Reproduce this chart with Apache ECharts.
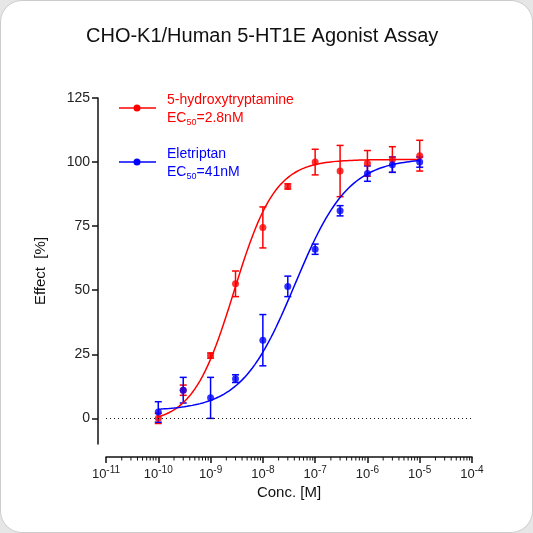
<!DOCTYPE html>
<html><head><meta charset="utf-8">
<script src="https://cdn.jsdelivr.net/npm/echarts@6/dist/echarts.min.js"></script>
<style>
html,body{margin:0;background:#e6e6e6;}
#c{width:531px;height:531px;background:#fff;border:1px solid #ccc;border-radius:22px;overflow:hidden;}
</style></head><body>
<div id="c"></div>
<script>
// concentrations as log10(M)
const logConc = [-10, -9.523, -9, -8.523, -8, -7.523, -7, -6.523, -6, -5.523, -5];
const htMean = [0, 11, 24.5, 52.5, 74.5, 90.5, 100, 96.5, 99.5, 101, 102.5];
const htErr  = [2, 2, 1, 5, 8, 1, 5, 10, 5, 5, 6];
const eleMean = [2.5, 11, 8, 15.5, 30.5, 51.5, 66, 81, 95.5, 99, 100];
const eleErr  = [4, 5, 8, 1.5, 10, 4, 2, 2, 3, 3, 2];
const xTicks = [-11, -10, -9, -8, -7, -6, -5, -4];
const yTicks = [0, 25, 50, 75, 100, 125];
// fitted Hill parameters [bottom, top, logEC50, hill]
const htFit = [-2, 101, Math.log10(2.8e-9), 1.1];
const eleFit = [3, 101.5, Math.log10(4.1e-8), 0.85];

function curve(p) {
  const out = [];
  for (let x = -10; x <= -5.0001 + 0.05; x += 0.05) {
    out.push([x, p[0] + (p[1] - p[0]) / (1 + Math.pow(10, (p[2] - x) * p[3]))]);
  }
  return out;
}
const minor = [];
for (let d = -11; d < -4; d++) for (let k = 2; k <= 9; k++) minor.push(d + Math.log10(k));

function errSeries(mean, err, color) {
  return {
    type: 'custom', z: 3,
    data: logConc.map((x, i) => [x, mean[i], err[i]]),
    renderItem: (params, api) => {
      const x = api.value(0), m = api.value(1), e = api.value(2);
      const top = api.coord([x, m + e]), bot = api.coord([x, m - e]);
      const c = { stroke: color, lineWidth: 1.5 };
      return { type: 'group', children: [
        { type: 'line', shape: { x1: top[0], y1: top[1], x2: bot[0], y2: bot[1] }, style: c },
        { type: 'line', shape: { x1: top[0] - 3.5, y1: top[1], x2: top[0] + 3.5, y2: top[1] }, style: c },
        { type: 'line', shape: { x1: bot[0] - 3.5, y1: bot[1], x2: bot[0] + 3.5, y2: bot[1] }, style: c }
      ]};
    }
  };
}
const sup = { fontSize: 10, verticalAlign: 'top', padding: [0, 0, 8, 0], color: '#222' };
const chart = echarts.init(document.getElementById('c'));
chart.setOption({
  animation: false,
  title: { text: 'CHO-K1/Human 5-HT1E Agonist Assay', left: 80, top: 20,
    textStyle: { fontSize: 20, fontWeight: 'normal', color: '#111', fontFamily: 'Liberation Sans' } },
  grid: { left: 105, right: 60, top: 97, bottom: 88 },
  xAxis: {
    type: 'value', min: -11, max: -4, interval: 1, offset: 13,
    name: 'Conc. [M]', nameLocation: 'middle', nameGap: 27,
    nameTextStyle: { fontSize: 15, color: '#111', fontFamily: 'Liberation Sans' },
    axisLine: { onZero: false, lineStyle: { color: '#111', width: 1.5 } },
    axisTick: { length: 6, lineStyle: { color: '#111', width: 1.5 } },
    minorTick: { show: false },
    splitLine: { show: false },
    axisLabel: { color: '#222', fontSize: 13, fontFamily: 'Liberation Sans',
      formatter: v => '10{s|' + v + '}', rich: { s: sup } }
  },
  yAxis: {
    type: 'value', min: -10, max: 125, offset: 8,
    name: 'Effect  [%]', nameLocation: 'middle', nameGap: 50,
    nameTextStyle: { fontSize: 15, color: '#111', fontFamily: 'Liberation Sans' },
    axisLine: { show: true, onZero: false, lineStyle: { color: '#111', width: 1.5 } },
    axisTick: { show: true, length: 6, customValues: yTicks, lineStyle: { color: '#111', width: 1.5 } },
    axisLabel: { customValues: yTicks, color: '#222', fontSize: 14, fontFamily: 'Liberation Sans' },
    splitLine: { show: false }
  },
  series: [
    { type: 'custom', silent: true, data: minor.map(v => [v]),
      renderItem: (params, api) => {
        const p = api.coord([api.value(0), -10]);
        return { type: 'line', shape: { x1: p[0], y1: p[1] + 13, x2: p[0], y2: p[1] + 16.5 },
          style: { stroke: '#111', lineWidth: 1 } };
      } },
    { type: 'line', data: curve(htFit), showSymbol: false, smooth: false,
      lineStyle: { color: '#f00', width: 1.5 },
      markLine: { silent: true, symbol: 'none', label: { show: false },
        lineStyle: { color: '#111', type: [1, 3], width: 1 }, data: [{ yAxis: 0 }] } },
    { type: 'line', data: curve(eleFit), showSymbol: false, lineStyle: { color: '#00f', width: 1.5 } },
    errSeries(htMean, htErr, '#f00'),
    errSeries(eleMean, eleErr, '#00f'),
    { type: 'scatter', data: logConc.map((x, i) => [x, htMean[i]]), symbolSize: 7, itemStyle: { color: '#f00' }, z: 4 },
    { type: 'scatter', data: logConc.map((x, i) => [x, eleMean[i]]), symbolSize: 7, itemStyle: { color: '#00f' }, z: 4 }
  ],
  graphic: [
    { type: 'line', shape: { x1: 118, y1: 107, x2: 155, y2: 107 }, style: { stroke: '#f00', lineWidth: 1.5 } },
    { type: 'circle', shape: { cx: 136, cy: 107, r: 3.5 }, style: { fill: '#f00' } },
    { type: 'text', left: 166, top: 90, style: { text: '5-hydroxytryptamine\nEC{s|50}=2.8nM', fill: '#f00',
      font: '14px Liberation Sans', lineHeight: 18, rich: { s: { fontSize: 9, verticalAlign: 'bottom', padding: [8, 0, 0, 0], fill: '#f00' } } } },
    { type: 'line', shape: { x1: 118, y1: 161, x2: 155, y2: 161 }, style: { stroke: '#00f', lineWidth: 1.5 } },
    { type: 'circle', shape: { cx: 136, cy: 161, r: 3.5 }, style: { fill: '#00f' } },
    { type: 'text', left: 166, top: 144, style: { text: 'Eletriptan\nEC{s|50}=41nM', fill: '#00f',
      font: '14px Liberation Sans', lineHeight: 18, rich: { s: { fontSize: 9, verticalAlign: 'bottom', padding: [8, 0, 0, 0], fill: '#00f' } } } }
  ]
});
</script>
</body></html>
